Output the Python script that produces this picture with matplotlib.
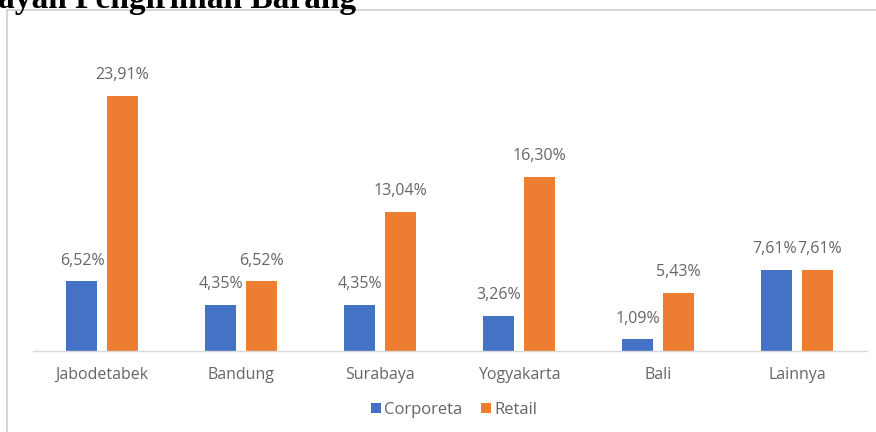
import matplotlib
matplotlib.use("Agg")
import matplotlib.pyplot as plt
from matplotlib.patches import Rectangle
import numpy as np

categories = ["Jabodetabek", "Bandung", "Surabaya", "Yogyakarta", "Bali", "Lainnya"]
corporeta = [6.52, 4.35, 4.35, 3.26, 1.09, 7.61]
retail = [23.91, 6.52, 13.04, 16.30, 5.43, 7.61]
series_names = ["Corporeta", "Retail"]
title_text = "ayan Pengiriman Barang"

blue = "#4472C4"
orange = "#ED7D31"
label_col = "#666666"
font = ["Open Sans", "DejaVu Sans"]

fig = plt.figure(figsize=(8.76, 4.32), dpi=100)
W, H = 876, 432

# chart frame
fig.patches.append(Rectangle((7 / W, -0.1), 1.0, 1 - 10 / H + 0.1, transform=fig.transFigure,
                             fill=False, edgecolor="#D0D0D0", linewidth=1.2))

ax = fig.add_axes([32.5 / W, 81 / H, 834 / W, 298.5 / H])
x = np.arange(len(categories))
bw = 0.223
off = 0.144
b1 = ax.bar(x - off, corporeta, bw, color=blue, label=series_names[0])
b2 = ax.bar(x + off, retail, bw, color=orange, label=series_names[1])
ax.set_xlim(-0.5, len(categories) - 0.5)
ax.set_ylim(0, 28)

labels = {0: [], 1: []}
for si, (bars, vals) in enumerate(((b1, corporeta), (b2, retail))):
    for r, v in zip(bars, vals):
        t = ax.annotate(f"{v:.2f}%".replace(".", ","), (r.get_x() + r.get_width() / 2, v),
                        xytext=(0, 15), textcoords="offset points", ha="center", va="center",
                        fontsize=11.5, color=label_col, family=font)
        labels[si].append(t)

for s in ["top", "right", "left"]:
    ax.spines[s].set_visible(False)
ax.spines["bottom"].set_color("#D9D9D9")
ax.spines["bottom"].set_linewidth(1.0)
ax.set_yticks([])
ax.set_xticks(x)
ax.set_xticklabels(categories, fontsize=11.5, color=label_col, family=font)
ax.tick_params(axis="x", length=0, pad=11.5)

# nudge apart labels of the same category that would collide
fig.canvas.draw()
renderer = fig.canvas.get_renderer()
for a, b in zip(labels[0], labels[1]):
    ea, eb = a.get_window_extent(renderer), b.get_window_extent(renderer)
    if ea.y1 > eb.y0 and eb.y1 > ea.y0 and ea.x1 > eb.x0:
        ov = (ea.x1 - eb.x0 + 1) / 2 * 72 / fig.dpi
        a.xyann = (-ov, 15)
        b.xyann = (ov, 15)

leg = fig.legend(handles=[b1, b2], labels=series_names, loc="center", bbox_to_anchor=(454 / W, 1 - 410 / H),
                 ncol=2, frameon=False, handlelength=0.6, handleheight=0.5, handletextpad=0.2,
                 columnspacing=1.1, prop={"family": font, "size": 12})
for t in leg.get_texts():
    t.set_color(label_col)

fig.text(-2 / W, 1 - 8 / H, title_text, ha="left", va="baseline", fontsize=24, fontweight="bold",
         family=["Liberation Serif", "DejaVu Serif"], color="black")

fig.savefig("out.png", dpi=100)
